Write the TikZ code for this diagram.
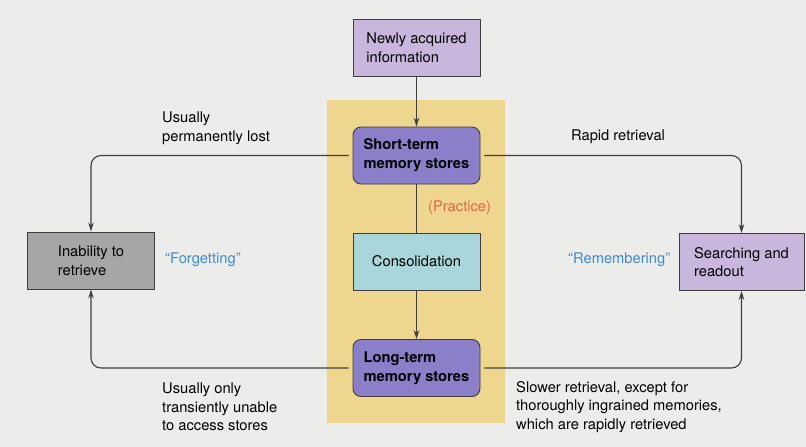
\documentclass[tikz,border=0pt]{standalone}
\usepackage{fontspec}
\setmainfont{TeX Gyre Heros}
\usetikzlibrary{positioning,arrows.meta}
\definecolor{paper}{HTML}{ECECEA}
\definecolor{practicezone}{HTML}{EFD68F}
\definecolor{lilac}{HTML}{C9B6DD}
\definecolor{storepurple}{HTML}{8C7FC9}
\definecolor{consolcyan}{HTML}{A9D6DA}
\definecolor{lostgray}{HTML}{A6A6A6}
\definecolor{boxline}{HTML}{3E3E3E}
\definecolor{quoteblue}{HTML}{3D8BD0}
\definecolor{practicered}{HTML}{E0644A}
\newcommand{\labelfont}{\fontsize{14.7}{18.7}\selectfont}
\tikzstyle{every node}=[font=\labelfont]
\tikzstyle{membox}=[draw=boxline,line width=0.9pt,align=left,minimum width=127pt,minimum height=57pt,inner sep=0]
\tikzstyle{storebox}=[membox,rounded corners=8pt,fill=storepurple,font=\labelfont\bfseries]
\tikzstyle{flow}=[draw=boxline,line width=1.1pt,>={Stealth[length=9pt,width=5.5pt]}]
\tikzstyle{note}=[align=left,anchor=west,inner sep=0]
\newcommand{\memnode}[4]{\node[#1] (#2) at (#3) {#4};}

\begin{document}
\begin{tikzpicture}[x=1pt,y=-1pt]
\fill[paper] (0,0) rectangle (806,447);
\useasboundingbox (0,0) rectangle (806,447);
\fill[practicezone] (327,100) rectangle (505,423);

\memnode{membox,fill=lilac}{new}{416.5,48}{Newly acquired\\information}
\memnode{storebox}{stm}{416.5,155.5}{Short-term\\memory stores}
\memnode{membox,fill=consolcyan}{cons}{416.5,261.5}{Consolidation}
\memnode{storebox}{ltm}{416.5,368}{Long-term\\memory stores}
\memnode{membox,fill=lostgray}{inab}{91,260.5}{Inability to\\retrieve}
\memnode{membox,fill=lilac,minimum width=125pt}{srch}{741.5,262}{Searching and\\readout}

\draw[flow,->] (new) -- (stm);
\draw[flow] (stm) -- (cons);
\draw[flow,->] (cons) -- (ltm);
\draw[flow,->,shorten <=4pt,rounded corners=10pt] (stm.west) -| (inab.north);
\draw[flow,->,shorten <=4pt,rounded corners=10pt] (stm.east) -| (srch.north);
\draw[flow,->,shorten <=4pt,rounded corners=10pt] (ltm.west) -| (inab.south);
\draw[flow,->,shorten <=4pt,rounded corners=10pt] (ltm.east) -| (srch.south);

\node[note] (lost) at (162,128) {Usually\\permanently lost};
\node[note] (rapid) at (571,137) {Rapid retrieval};
\node[note,text=quoteblue] (forget) at (165,260) {“Forgetting”};
\node[note,text=quoteblue] (remem) at (568,260) {“Remembering”};
\node[note,text=practicered] (prac) at (428,208) {(Practice)};
\node[note] (transient) at (162,407) {Usually only\\transiently unable\\to access stores};
\node[note] (slower) at (516,407) {Slower retrieval, except for\\thoroughly ingrained memories,\\which are rapidly retrieved};
\end{tikzpicture}
\end{document}
